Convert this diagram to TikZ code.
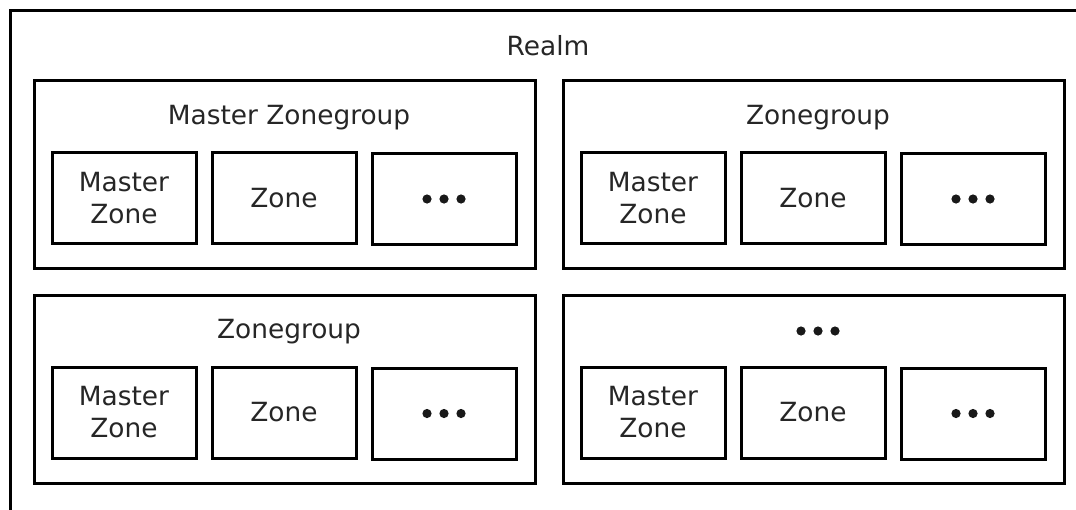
\documentclass[tikz,border=0pt]{standalone}
\usepackage{fontspec}
\setmainfont{DejaVu Sans}
\begin{document}
\begin{tikzpicture}[x=0.5pt,y=-0.5pt,line join=miter,font=\fontsize{13.2}{16}\selectfont,text=black!85,
	zonebox/.style={draw,line width=1.5pt,minimum width=72pt,minimum height=45.5pt,align=center,inner sep=0pt},
	groupbox/.style={draw,line width=1.5pt,minimum width=250.5pt,minimum height=94pt,inner sep=0pt},
	zdots/.pic={\fill[black!90] (-17,0) circle (2.3pt) (0,0) circle (2.3pt) (17,0) circle (2.3pt);}]
	\clip (0,0) rectangle (1076,509);
	% realm frame, cut off at the right and at the bottom
	\draw[line width=1.5pt] (10,10) rectangle (1110,540);
	\node (realm) at (548,46) {Realm};
	% group frames
	\node[groupbox] (g1) at (284.5,174) {};
	\node[groupbox] (g2) at (813.5,174) {};
	\node[groupbox] (g3) at (284.5,389) {};
	\node[groupbox] (g4) at (813.5,389) {};
	\node (t1) at (289,118) {Master Zonegroup};
	\node (t2) at (818,118) {Zonegroup};
	\node (t3) at (289,332) {Zonegroup};
	\coordinate (t4) at (818,331);
	% zones of the upper groups
	\node[zonebox] (m1) at (124,198) {Master\\Zone};
	\node[zonebox] (z1) at (284,198) {Zone};
	\node[zonebox] (d1) at (444,199) {};
	\node[zonebox] (m2) at (653,198) {Master\\Zone};
	\node[zonebox] (z2) at (813,198) {Zone};
	\node[zonebox] (d2) at (973,199) {};
	% zones of the lower groups
	\node[zonebox] (m3) at (124,412.5) {Master\\Zone};
	\node[zonebox] (z3) at (284,412.5) {Zone};
	\node[zonebox] (d3) at (444,413.5) {};
	\node[zonebox] (m4) at (653,412.5) {Master\\Zone};
	\node[zonebox] (z4) at (813,412.5) {Zone};
	\node[zonebox] (d4) at (973,413.5) {};
	% dots
	\pic at (t4) {zdots};
	\pic at (d1.center) {zdots};
	\pic at (d2.center) {zdots};
	\pic at (d3.center) {zdots};
	\pic at (d4.center) {zdots};
\end{tikzpicture}
\end{document}
